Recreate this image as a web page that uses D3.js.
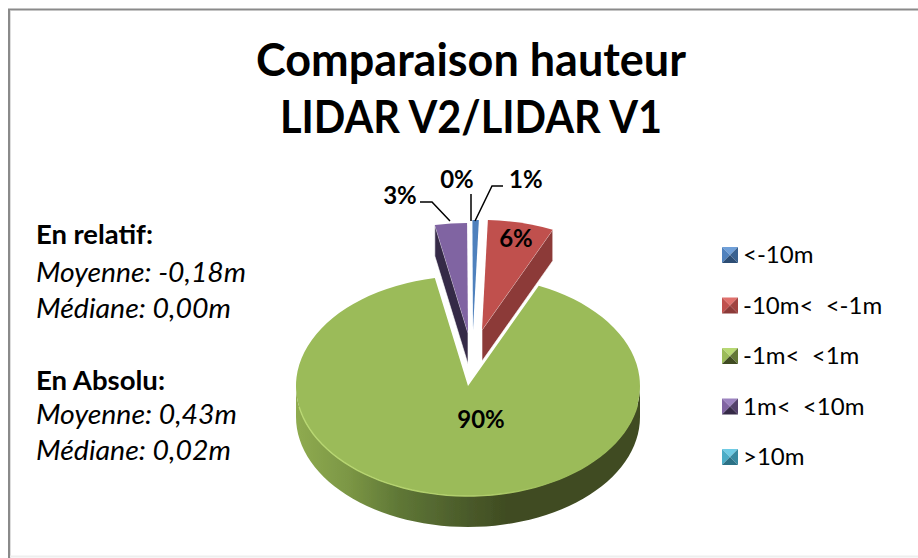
<!DOCTYPE html>
<html><head><meta charset="utf-8">
<script src="https://cdn.jsdelivr.net/npm/d3@7"></script>
<style>html,body{margin:0;padding:0;background:#fff}svg{display:block}text{font-family:Lato,"Open Sans",sans-serif;fill:#000}</style>
</head><body><svg id="c" width="918" height="558"></svg>
<script>
const categories=["<-10m","-10m<  <-1m","-1m<  <1m","1m<  <10m",">10m"];
const values=[0.6,6.2,90.1,3.0,0.03];
const labels=["1%","6%","90%","3%","0%"];
const colors=["#4f81bd","#c0504d","#9bbb59","#8064a2","#4bacc6"];
const lights=["#6f9fd8","#e0706c","#b7d873","#9c83c0","#6fcbe4"];
const darks=["#2c4d74","#8c3a38","#3f4b21","#352a47","#2b7186"];
const titleLines=["Comparaison hauteur","LIDAR V2/LIDAR V1"];
const titleWidths=[430,382];
const noteLines=[["En relatif:",true,244,117],["Moyenne: -0,18m",false,282,210],["Médiane: 0,00m",false,318,195],["En Absolu:",true,390,129],["Moyenne: 0,43m",false,424,201],["Médiane: 0,02m",false,460,195]];

const svg=d3.select("#c");
const rx=172,ry=110,depth=31;
const apex=[[473,330],[482,330],[468,386],[468,333],[471,333]];
const rad=d=>d*Math.PI/180;
const pie=d3.pie().sort(null).startAngle(rad(-0.2)).endAngle(rad(359.8));
const arcs=pie(values);
const arc=d3.arc().innerRadius(0).outerRadius(rx);
const pt=(i,a,dy=0)=>[apex[i][0]+rx*Math.sin(a),apex[i][1]-ry*Math.cos(a)+dy];

// frame
svg.append("line").attr("x1",8).attr("x2",918).attr("y1",9.5).attr("y2",9.5).attr("stroke","#8a8a8a").attr("stroke-width",2);
svg.append("line").attr("x1",9).attr("x2",9).attr("y1",9).attr("y2",558).attr("stroke","#8a8a8a").attr("stroke-width",2);
svg.append("line").attr("x1",10.5).attr("x2",10.5).attr("y1",11).attr("y2",558).attr("stroke","#ddd").attr("stroke-width",1);
svg.append("line").attr("x1",10).attr("x2",918).attr("y1",556.5).attr("y2",556.5).attr("stroke","#eeeeee").attr("stroke-width",2);

// title
svg.selectAll("text.t").data(titleLines).join("text").attr("class","t")
 .attr("x",471).attr("y",(d,i)=>76+i*57).attr("text-anchor","middle").attr("font-size",45).attr("font-weight",700)
 .attr("textLength",(d,i)=>titleWidths[i]).attr("lengthAdjust","spacingAndGlyphs").text(d=>d);

// notes
svg.selectAll("text.n").data(noteLines).join("text").attr("class","n")
 .attr("x",36).attr("y",d=>d[2]).attr("font-size",27).attr("font-weight",d=>d[1]?700:400).attr("font-style",d=>d[1]?"normal":"italic")
 .attr("textLength",d=>d[3]).attr("lengthAdjust","spacingAndGlyphs").text(d=>d[0]);

// defs
const defs=svg.append("defs");
const g=defs.append("linearGradient").attr("id","wall").attr("gradientUnits","userSpaceOnUse").attr("x1",296).attr("x2",640).attr("y1",0).attr("y2",0);
[[0,"#8fab50"],[0.15,"#7c9745"],[0.3,"#5f7736"],[0.5,"#4a5a2a"],[0.62,"#3f4b21"],[1,"#3f4b21"]].forEach(s=>g.append("stop").attr("offset",s[0]).attr("stop-color",s[1]));
const rim=defs.append("linearGradient").attr("id","rim").attr("gradientUnits","userSpaceOnUse").attr("x1",296).attr("x2",640).attr("y1",0).attr("y2",0);
[[0,"#b9d873"],[0.55,"#b0cd6a"],[0.75,"#9bbb59"],[1,"#9bbb59"]].forEach(s=>rim.append("stop").attr("offset",s[0]).attr("stop-color",s[1]));
defs.append("filter").attr("id","soft").attr("x","-5%").attr("y","-5%").attr("width","110%").attr("height","110%").append("feGaussianBlur").attr("stdDeviation",0.5);

const line=d3.line();
const gi=2;
const ang=d3.range(90,270.01,3).map(rad);
const wallPts=ang.map(a=>pt(gi,a)).concat(ang.slice().reverse().map(a=>pt(gi,a,depth)));
svg.append("path").attr("d",line(wallPts)+"Z").attr("fill","url(#wall)").attr("filter","url(#soft)");
const face=(i)=>svg.append("path")
  .attr("transform",`translate(${apex[i][0]},${apex[i][1]}) scale(1,${ry/rx})`)
  .attr("d",arc(arcs[i])).attr("fill",colors[i]);
face(gi);
svg.append("path").attr("d",line(d3.range(100,262,3).map(rad).map(a=>pt(gi,a)))).attr("fill","none").attr("stroke","url(#rim)").attr("stroke-width",1.4);

const flatWall=(i,a)=>{
  const p=pt(i,a),q=[apex[i][0],apex[i][1]];
  svg.append("path").attr("d",line([q,p,[p[0],p[1]+depth],[q[0],q[1]+depth]])+"Z").attr("fill",darks[i]).attr("stroke","#fff").attr("stroke-width",0.6);
};
flatWall(1,arcs[1].endAngle);
face(1);
flatWall(3,arcs[3].startAngle);
face(3);
face(0);

// value labels
const leaders=[
 {i:0,pts:[[475,221],[492,186],[503,186]],x:509,y:188,a:"start"},
 {i:1,pts:null,x:516,y:247,a:"middle"},
 {i:2,pts:null,x:481,y:428,a:"middle"},
 {i:3,pts:[[450,221],[432,202],[420,202]],x:400,y:204,a:"middle"},
 {i:4,pts:[[471,221],[471,194]],x:457,y:188,a:"middle"}
];
leaders.forEach(l=>{
  if(l.pts) svg.append("path").attr("d",line(l.pts)).attr("fill","none").attr("stroke","#000").attr("stroke-width",1.5);
  svg.append("text").attr("x",l.x).attr("y",l.y).attr("text-anchor",l.a).attr("font-size",24).attr("font-weight",700).text(labels[l.i]);
});

// legend
const ly=d3.scalePoint().domain(categories).range([255,457]);
const s=8;
categories.forEach((c,i)=>{
  const y=ly(c),x=730,G=svg.append("g").attr("transform",`translate(${x},${y})`);
  const p=[[-s,-s],[s,-s],[s,s],[-s,s]];
  G.append("path").attr("d",line([p[0],p[1],[0,0]])+"Z").attr("fill",lights[i]);
  G.append("path").attr("d",line([p[1],p[2],[0,0]])+"Z").attr("fill",d3.interpolateRgb(colors[i],darks[i])(0.6));
  G.append("path").attr("d",line([p[3],p[0],[0,0]])+"Z").attr("fill",colors[i]);
  G.append("path").attr("d",line([p[2],p[3],[0,0]])+"Z").attr("fill",darks[i]);
  svg.append("text").attr("x",743).attr("y",y+8).attr("font-size",24).style("white-space","pre").text(c);
});
</script></body></html>
